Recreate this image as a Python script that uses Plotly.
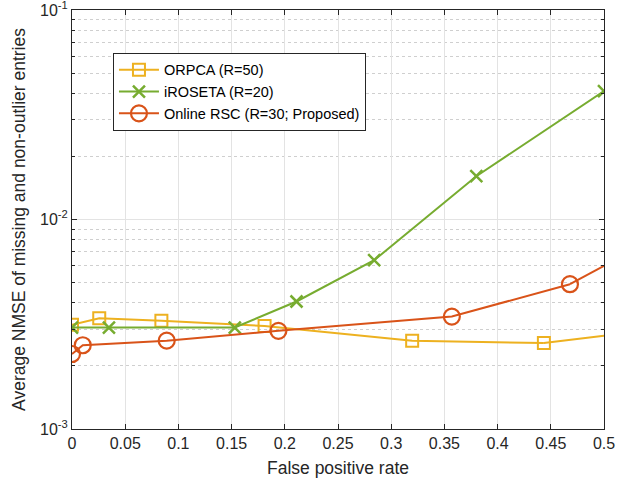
import plotly.graph_objects as go

# ---- data ----
orpca_x = [0.0, 0.0256, 0.084, 0.181, 0.3197, 0.4435]
orpca_y = [3.14e-3, 3.38e-3, 3.29e-3, 3.10e-3, 2.64e-3, 2.57e-3]
orpca_tail_x = [0.4435, 0.5]
orpca_tail_y = [2.57e-3, 2.79e-3]

iroseta_x = [0.0, 0.0347, 0.153, 0.211, 0.284, 0.380, 0.5]
iroseta_y = [3.05e-3, 3.05e-3, 3.05e-3, 4.06e-3, 6.39e-3, 1.61e-2, 4.1e-2]

rsc_x = [0.0, 0.0101, 0.089, 0.194, 0.357, 0.468]
rsc_y = [2.28e-3, 2.51e-3, 2.64e-3, 2.94e-3, 3.44e-3, 4.91e-3]
rsc_tail_x = [0.468, 0.5]
rsc_tail_y = [4.91e-3, 6.0e-3]

names = ["ORPCA (R=50)", "iROSETA (R=20)", "Online RSC (R=30; Proposed)"]
colors = ["#EDB120", "#77AC30", "#D95319"]

x_ticks = [0, 0.05, 0.1, 0.15, 0.2, 0.25, 0.3, 0.35, 0.4, 0.45, 0.5]
x_ticktext = ["0", "0.05", "0.1", "0.15", "0.2", "0.25", "0.3", "0.35", "0.4", "0.45", "0.5"]
y_ticks = [1e-3, 1e-2, 1e-1]
y_ticktext = ["10<sup>-3</sup>", "10<sup>-2</sup>", "10<sup>-1</sup>"]
y_minor = [2e-3, 3e-3, 4e-3, 5e-3, 6e-3, 7e-3, 8e-3, 9e-3,
           2e-2, 3e-2, 4e-2, 5e-2, 6e-2, 7e-2, 8e-2, 9e-2]

fig = go.Figure()

# tails (line continues to the axis edge without a marker)
fig.add_trace(go.Scatter(x=orpca_tail_x, y=orpca_tail_y, mode="lines",
                         line=dict(color=colors[0], width=2), showlegend=False, hoverinfo="skip"))
fig.add_trace(go.Scatter(x=rsc_tail_x, y=rsc_tail_y, mode="lines",
                         line=dict(color=colors[2], width=2), showlegend=False, hoverinfo="skip"))

fig.add_trace(go.Scatter(x=orpca_x, y=orpca_y, mode="lines+markers", name=names[0],
                         line=dict(color=colors[0], width=2),
                         marker=dict(symbol="square-open", size=12, color=colors[0],
                                     line=dict(width=2, color=colors[0]))))
fig.add_trace(go.Scatter(x=iroseta_x, y=iroseta_y, mode="lines+markers", name=names[1],
                         line=dict(color=colors[1], width=2),
                         marker=dict(symbol="x-thin-open", size=12, color=colors[1],
                                     line=dict(width=2.5, color=colors[1]))))
fig.add_trace(go.Scatter(x=rsc_x, y=rsc_y, mode="lines+markers", name=names[2],
                         line=dict(color=colors[2], width=2),
                         marker=dict(symbol="circle-open", size=16, color=colors[2],
                                     line=dict(width=2.2, color=colors[2]))))

FAM = "Liberation Sans, Arial, sans-serif"
tick_font = dict(family=FAM, size=16, color="#262626")

fig.update_layout(
    width=632, height=482,
    margin=dict(l=72, r=28, t=10, b=53),
    paper_bgcolor="white", plot_bgcolor="white",
    font=dict(family=FAM, size=15, color="#262626"),
    showlegend=True,
    legend=dict(x=0.077, y=0.898, xanchor="left", yanchor="top",
                bgcolor="white", bordercolor="#262626", borderwidth=1,
                font=dict(family=FAM, size=14.5, color="#000000"),
                tracegroupgap=0, itemwidth=40),
    xaxis=dict(range=[0, 0.5], tickvals=x_ticks, ticktext=x_ticktext,
               showgrid=True, gridcolor="#e3e3e3", gridwidth=1,
               ticks="inside", ticklen=5, tickcolor="#262626",
               showline=True, linecolor="#262626", linewidth=1, mirror="ticks",
               zeroline=False, automargin=False, ticklabeloverflow="allow",
               title=dict(text="False positive rate", font=dict(family=FAM, size=17.5, color="#262626"), standoff=10),
               tickfont=tick_font),
    yaxis=dict(type="log", range=[-3.0002, -0.9998], tickvals=y_ticks, ticktext=y_ticktext,
               showgrid=True, gridcolor="#e3e3e3", gridwidth=1,
               ticks="inside", ticklen=5, tickcolor="#262626",
               showline=True, linecolor="#262626", linewidth=1, mirror="ticks",
               zeroline=False, automargin=False, ticklabeloverflow="allow",
               minor=dict(tickvals=y_minor, ticks="inside", ticklen=3, tickcolor="#262626",
                          showgrid=True, gridcolor="#cfcfcf", griddash="dot", gridwidth=1),
               title=dict(text="Average NMSE of missing and non-outlier entries",
                          font=dict(family=FAM, size=17.5, color="#262626"), standoff=9),
               tickfont=tick_font),
)

fig.write_html("out.html", config={"displayModeBar": False},
               post_script="document.body.style.margin='0';")
